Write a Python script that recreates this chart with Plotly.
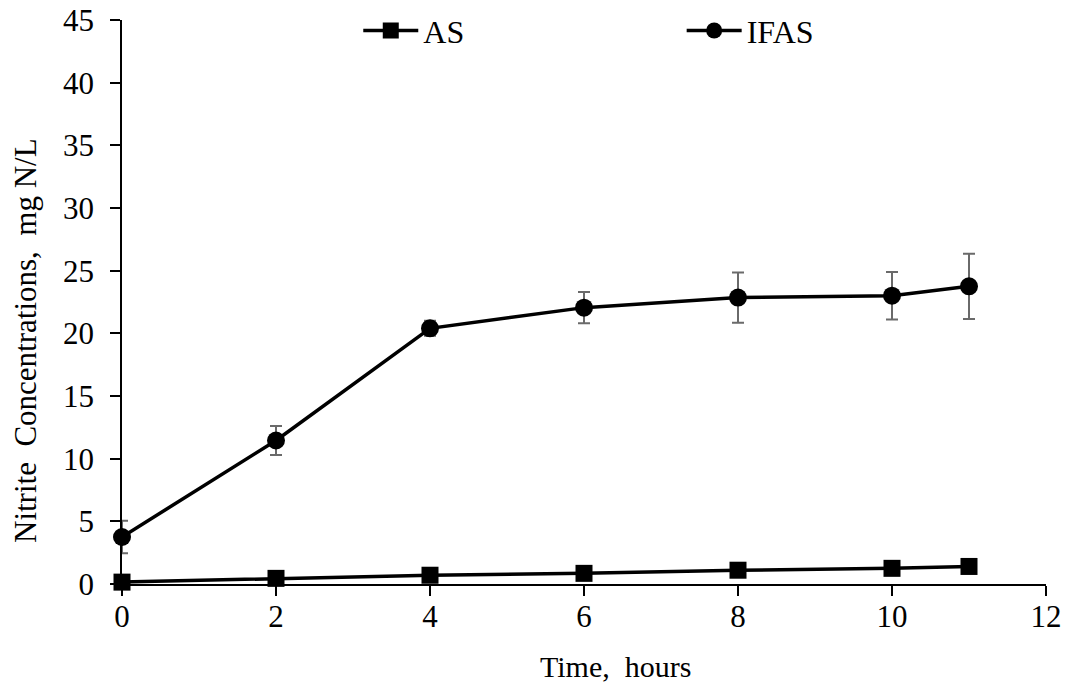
import plotly.graph_objects as go

# Sampling times (hours)
time_h = [0, 2, 4, 6, 8, 10, 11]

# Nitrite concentrations, mg N/L
as_nitrite = [0.15, 0.45, 0.7, 0.85, 1.1, 1.25, 1.4]
ifas_nitrite = [3.75, 11.45, 20.4, 22.05, 22.85, 23.0, 23.75]
ifas_err = [1.3, 1.15, 0.6, 1.25, 2.0, 1.9, 2.6]

x_ticks = [0, 2, 4, 6, 8, 10, 12]
y_ticks = [0, 5, 10, 15, 20, 25, 30, 35, 40, 45]

FONT = "Liberation Serif, Times New Roman, serif"

fig = go.Figure()

fig.add_trace(go.Scatter(
    x=time_h, y=ifas_nitrite, name="IFAS", mode="lines+markers",
    line=dict(color="black", width=3.5),
    marker=dict(symbol="circle", size=18, color="black"),
    error_y=dict(type="data", array=ifas_err, visible=True,
                 color="#6a6a6a", thickness=2, width=6),
    cliponaxis=False, legend="legend2",
))

fig.add_trace(go.Scatter(
    x=time_h, y=as_nitrite, name="AS", mode="lines+markers",
    line=dict(color="black", width=3.5),
    marker=dict(symbol="square", size=17, color="black"),
    cliponaxis=False, legend="legend",
))

legend_common = dict(
    orientation="h", font=dict(family=FONT, size=32, color="black"),
    bgcolor="rgba(0,0,0,0)", itemwidth=55, yanchor="middle", y=0.981,
    xanchor="left", tracegroupgap=0,
)

fig.update_layout(
    width=1067, height=686,
    margin=dict(l=122, r=21, t=20, b=102, autoexpand=False),
    paper_bgcolor="white", plot_bgcolor="white",
    font=dict(family=FONT, size=31, color="black"),
    showlegend=True,
    legend=dict(x=0.2557, **legend_common),
    legend2=dict(x=0.6057, **legend_common),
    xaxis=dict(
        range=[0, 12], tickvals=x_ticks, ticks="outside", ticklen=10,
        tickwidth=1.5, tickcolor="black", showline=True, linecolor="black",
        linewidth=1.5, showgrid=False, zeroline=False,
        ticklabelstandoff=-6,
        tickfont=dict(family=FONT, size=31, color="black"),
    ),
    yaxis=dict(
        range=[0, 45], tickvals=y_ticks, ticks="outside", ticklen=10,
        tickwidth=1.5, tickcolor="black", showline=True, linecolor="black",
        linewidth=1.5, showgrid=False, zeroline=False,
        ticklabelstandoff=10,
        tickfont=dict(family=FONT, size=31, color="black"),
    ),
    annotations=[
        dict(text="Time,  hours", xref="paper", yref="paper",
             x=0.5346, y=-0.147, xanchor="center", yanchor="middle",
             showarrow=False, font=dict(family=FONT, size=30, color="black")),
        dict(text="Nitrite  Concentrations,  mg N/L", xref="paper", yref="paper",
             x=-0.105, y=0.4326, xanchor="center", yanchor="middle",
             textangle=-90, showarrow=False,
             font=dict(family=FONT, size=31, color="black")),
    ],
)

fig.write_html("out.html")
